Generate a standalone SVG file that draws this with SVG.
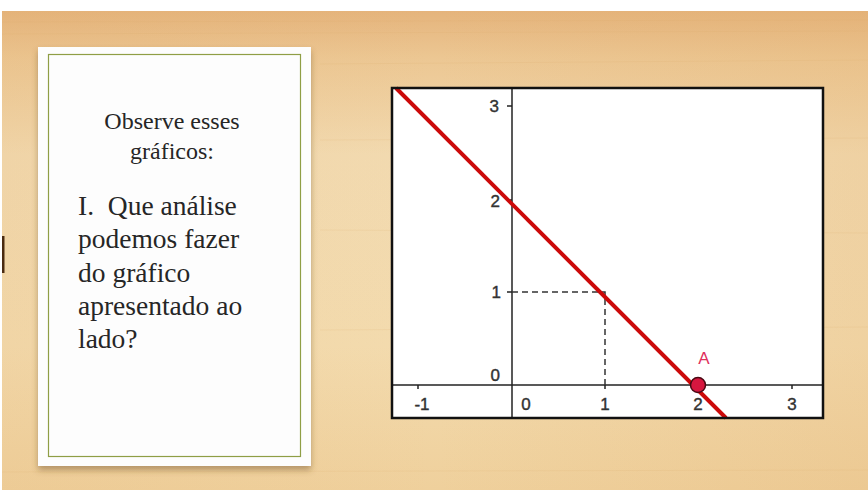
<svg xmlns="http://www.w3.org/2000/svg" width="868" height="490" viewBox="0 0 868 490">
  <defs>
    <linearGradient id="wood" x1="0" y1="0" x2="0" y2="1">
      <stop offset="0" stop-color="#e5b47c"/>
      <stop offset="0.1" stop-color="#ecc793"/>
      <stop offset="0.3" stop-color="#f2dab0"/>
      <stop offset="0.7" stop-color="#f3dbae"/>
      <stop offset="1" stop-color="#efd09c"/>
    </linearGradient>
    <linearGradient id="woodR" x1="0" y1="0" x2="1" y2="0">
      <stop offset="0" stop-color="#dfa865" stop-opacity="0.12"/>
      <stop offset="0.5" stop-color="#dfa865" stop-opacity="0"/>
      <stop offset="1" stop-color="#dfa865" stop-opacity="0.18"/>
    </linearGradient>
    <filter id="shadow" x="-10%" y="-10%" width="120%" height="120%">
      <feDropShadow dx="0" dy="4" stdDeviation="3" flood-color="#6b4a20" flood-opacity="0.45"/>
    </filter>
    <style>
      .body { font-family: "Liberation Serif", "DejaVu Serif", serif; fill: #262626; }
      .hdr { font-size: 24px; text-anchor: middle; }
      .big { font-size: 27.5px; }
      .tick { font-family: "Liberation Sans", Arial, sans-serif; font-size: 17px; fill: #333; stroke: #333; stroke-width: 0.4; }
      .axis { stroke: #222; stroke-width: 1.5; fill: none; }
      .dash { stroke: #333; stroke-width: 1.5; stroke-dasharray: 6 4; fill: none; }
      .streak { stroke: #d8a866; stroke-width: 1; opacity: 0.15; }
    </style>
  </defs>

  <rect x="0" y="0" width="868" height="490" fill="#ffffff"/>
  <rect x="2" y="11" width="866" height="479" fill="url(#wood)"/>
  <rect x="2" y="11" width="866" height="479" fill="url(#woodR)"/>
  <g id="streaks">
    <line class="streak" x1="2" y1="22" x2="868" y2="20"/>
    <line class="streak" x1="2" y1="34" x2="868" y2="31"/>
    <line class="streak" x1="320" y1="64" x2="868" y2="60"/>
    <line class="streak" x1="320" y1="140" x2="868" y2="138"/>
    <line class="streak" x1="320" y1="230" x2="868" y2="233"/>
    <line class="streak" x1="320" y1="330" x2="868" y2="327"/>
    <line class="streak" x1="2" y1="472" x2="868" y2="470"/>
  </g>
  <rect x="2" y="236" width="2.5" height="37" fill="#4a2a10"/>

  <g id="card">
    <rect x="38" y="47" width="273" height="419" fill="#fdfdfd" filter="url(#shadow)"/>
    <rect x="48.5" y="54.5" width="252" height="402" fill="none" stroke="#8f9e45" stroke-width="1.2"/>
    <text class="body hdr" x="172" y="129">Observe esses</text>
    <text class="body hdr" x="172" y="159">gráficos:</text>
    <text class="body big" x="78" y="215" xml:space="preserve">I.  Que análise</text>
    <text class="body big" x="78" y="248">podemos fazer</text>
    <text class="body big" x="78" y="282">do gráfico</text>
    <text class="body big" x="78" y="315">apresentado ao</text>
    <text class="body big" x="78" y="348">lado?</text>
  </g>

  <g id="graph">
    <rect x="392" y="88" width="431" height="330" fill="#ffffff"/>
    <g id="axes">
      <line class="axis" x1="392" y1="385" x2="823" y2="385"/>
      <line class="axis" x1="512" y1="88" x2="512" y2="418"/>
      <line class="axis" x1="507" y1="106" x2="512" y2="106"/>
      <line class="axis" x1="507" y1="200" x2="512" y2="200"/>
      <line class="axis" x1="507" y1="292" x2="512" y2="292"/>
      <line class="axis" x1="418" y1="385" x2="418" y2="389"/>
      <line class="axis" x1="605" y1="385" x2="605" y2="389"/>
      <line class="axis" x1="792" y1="385" x2="792" y2="389"/>
    </g>
    <g id="tick-labels">
      <text class="tick" x="499" y="112" text-anchor="end">3</text>
      <text class="tick" x="500" y="207" text-anchor="end">2</text>
      <text class="tick" x="501" y="298" text-anchor="end">1</text>
      <text class="tick" x="500" y="381" text-anchor="end">0</text>
      <text class="tick" x="422" y="410" text-anchor="middle">-1</text>
      <text class="tick" x="526" y="410" text-anchor="middle">0</text>
      <text class="tick" x="605" y="410" text-anchor="middle">1</text>
      <text class="tick" x="698" y="410" text-anchor="middle">2</text>
      <text class="tick" x="792" y="410" text-anchor="middle">3</text>
    </g>
    <g id="connectors">
      <polyline class="dash" points="512,292 605,292 605,385"/>
      <line x1="396" y1="88" x2="726" y2="418" stroke="#cc0a0a" stroke-width="4"/>
    </g>
    <g id="point-A">
      <circle cx="698" cy="385" r="7.5" fill="#d6173f" stroke="#4a0812" stroke-width="1.5"/>
      <text x="704" y="364" font-family="Liberation Sans, Arial, sans-serif" font-size="17" fill="#e0305c" text-anchor="middle">A</text>
    </g>
    <rect x="392" y="88" width="431" height="330" fill="none" stroke="#111" stroke-width="2.5"/>
  </g>
</svg>
